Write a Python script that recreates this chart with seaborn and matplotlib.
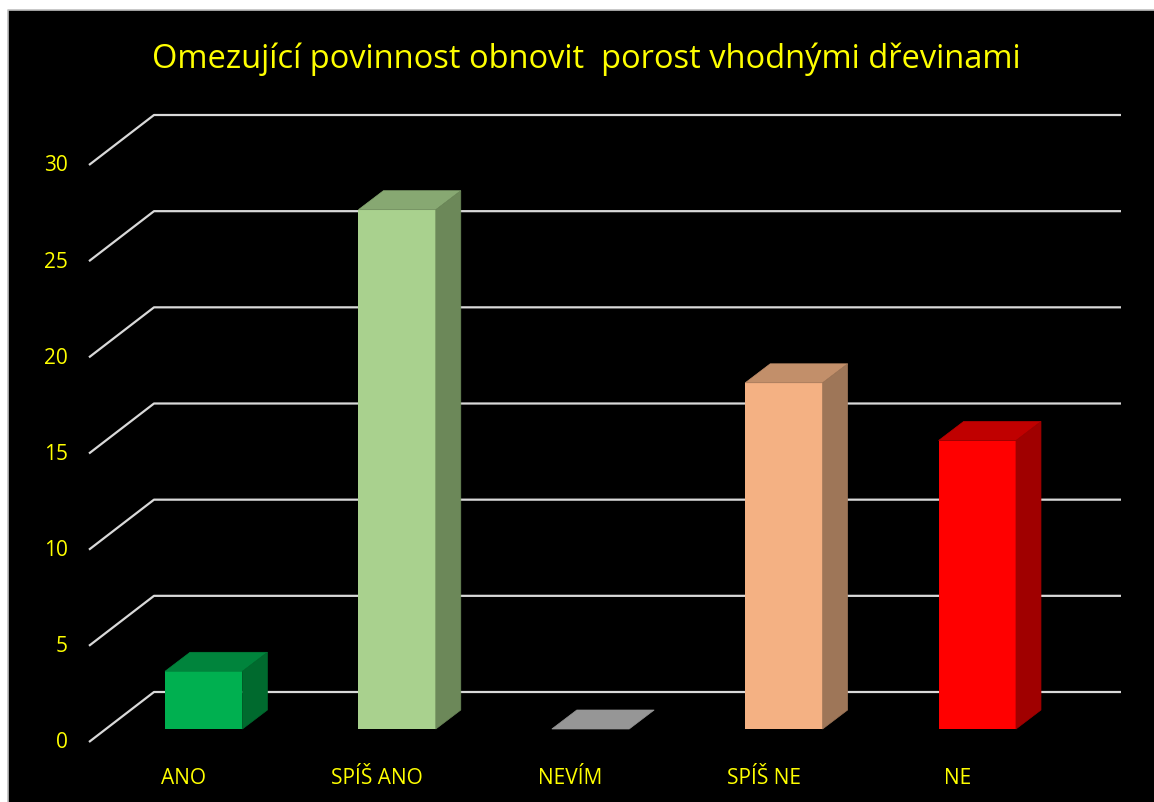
import matplotlib
matplotlib.use("Agg")
import matplotlib.pyplot as plt
from matplotlib.patches import Polygon, Rectangle
import pandas as pd
import seaborn as sns

# data
categories = ["ANO", "SPÍŠ ANO", "NEVÍM", "SPÍŠ NE", "NE"]
counts = [3, 27, 0, 18, 15]
y_ticks = [0, 5, 10, 15, 20, 25, 30]
title = "Omezující povinnost obnovit  porost vhodnými dřevinami"

# colours of the three visible faces of each column
front_colors = ["#00B050", "#A9D18E", "#969696", "#F4B183", "#FF0000"]
top_colors = ["#00843C", "#87A872", "#969696", "#C28F6A", "#C00000"]
side_colors = ["#006A2E", "#6C8859", "#7A7A7A", "#9E7658", "#A00000"]

YELLOW = "#FFFF00"
GRID = "#D9D9D9"

sns.set_theme(style="dark")
plt.rcParams["font.family"] = ["Open Sans", "DejaVu Sans"]

DPI = 100
W, H = 1154, 803
fig = plt.figure(figsize=(W / DPI, H / DPI), dpi=DPI, facecolor="white")
# black chart area, white strip on top and left like the screenshot
fig.add_artist(Rectangle((8 / W, 0), 1, 1 - 11 / H, transform=fig.transFigure,
                         facecolor="black", edgecolor="none", zorder=-5))
fig.add_artist(plt.Line2D([8 / W, 8 / W, 1], [0, 1 - 11 / H, 1 - 11 / H], transform=fig.transFigure,
                          color="#BFBFBF", lw=1.2, zorder=-4))

# axes = plane of the column front faces
ax = fig.add_axes([107 / W, (H - 730) / H, 967 / W, 577 / H])
ax.set_facecolor("none")

df = pd.DataFrame({"kategorie": categories, "pocet": counts})
sns.barplot(data=df, x="kategorie", y="pocet", hue="kategorie", palette=front_colors,
            width=0.4, saturation=1, legend=False, linewidth=0, ax=ax, zorder=3)
ax.set_xlim(-0.5, 4.5)
ax.set_ylim(0, 30)
ax.set_axis_off()

# pixel -> data units
ux = 5 / 967
uy = 30 / 577

# 3d depth (pixels): floor front edge, back wall, column depth
front_dx, front_dy = -18, -13
back_dx, back_dy = 47, 37
bar_dx, bar_dy = 25, 19

for t in y_ticks:
    fx, fy = -0.5 + front_dx * ux, t + front_dy * uy
    bx, by = -0.5 + back_dx * ux, t + back_dy * uy
    ex = 4.5 + back_dx * ux
    ax.plot([fx, bx, ex], [fy, by, by], color=GRID, lw=1.6, clip_on=False, zorder=1,
            solid_capstyle="butt")
    ax.text(fx - 21 * ux, fy, str(t), ha="right", va="center", color=YELLOW, fontsize=15)

dx, dy = bar_dx * ux, bar_dy * uy
for p, tc, sc in zip(ax.patches, top_colors, side_colors):
    x0, w, h = p.get_x(), p.get_width(), p.get_height()
    ax.add_patch(Polygon([(x0, h), (x0 + w, h), (x0 + w + dx, h + dy), (x0 + dx, h + dy)],
                         closed=True, facecolor=tc, edgecolor=tc, lw=0.5, zorder=3, clip_on=False))
    if h > 0:
        ax.add_patch(Polygon([(x0 + w, 0), (x0 + w, h), (x0 + w + dx, h + dy), (x0 + w + dx, dy)],
                             closed=True, facecolor=sc, edgecolor=sc, lw=0.5, zorder=3, clip_on=False))

for i, cat in enumerate(categories):
    ax.text(i - 20 * ux, -54 * uy, cat, ha="center", va="baseline", color=YELLOW, fontsize=15)

fig.text(586 / W, 1 - 68 / H, title, ha="center", va="baseline", color=YELLOW, fontsize=23.5)

fig.savefig("out.png", dpi=DPI, facecolor=fig.get_facecolor())
